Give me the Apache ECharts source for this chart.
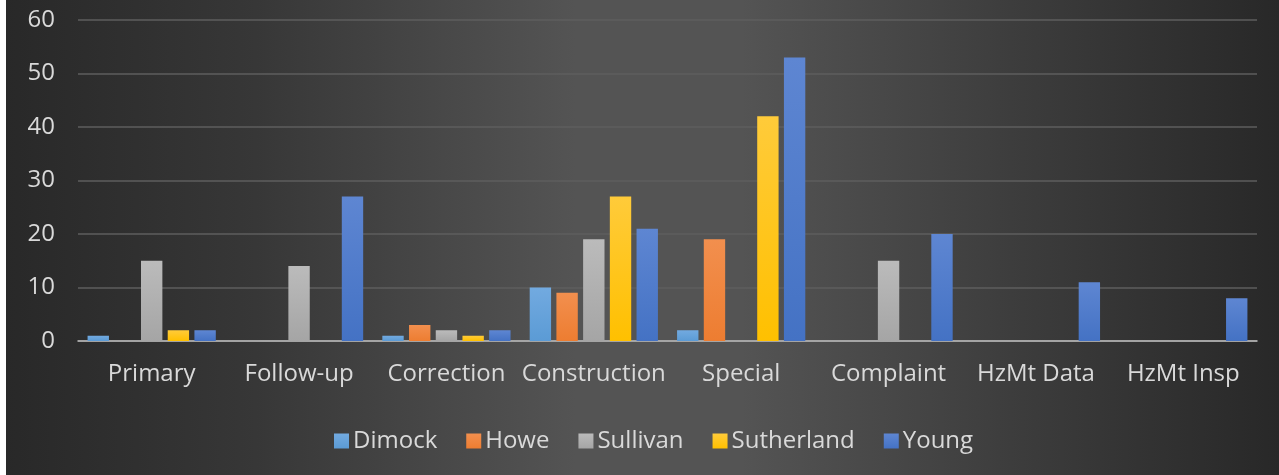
<!DOCTYPE html>
<html>
<head>
<meta charset="utf-8">
<script src="https://cdn.jsdelivr.net/npm/echarts@6/dist/echarts.min.js"></script>
<style>
html,body{margin:0;padding:0;background:#333;}
#chart{width:1279px;height:475px;}
</style>
</head>
<body>
<div id="chart"></div>
<script>
const categories = ["Primary","Follow-up","Correction","Construction","Special","Complaint","HzMt Data","HzMt Insp"];
const seriesNames = ["Dimock","Howe","Sullivan","Sutherland","Young"];
const dimock     = [1, 0, 1, 10, 2, 0, 0, 0];
const howe       = [0, 0, 3, 9, 19, 0, 0, 0];
const sullivan   = [15, 14, 2, 19, 0, 15, 0, 0];
const sutherland = [2, 0, 1, 27, 42, 0, 0, 0];
const young      = [2, 27, 2, 21, 53, 20, 11, 8];
const yTicks = [0,10,20,30,40,50,60];

const baseColors = ["#5B9BD5","#ED7D31","#A5A5A5","#FFC000","#4472C4"];
const topColors  = ["#72AAE0","#F28F4E","#BBBBBB","#FFCB3A","#5E86D2"];
const allData = [dimock, howe, sullivan, sutherland, young];

const chart = echarts.init(document.getElementById('chart'));
const font = "'Open Sans', sans-serif";
chart.setOption({
  backgroundColor: {
    type:'linear', x:0, y:0, x2:1, y2:0,
    colorStops:[
      {offset:0,color:'#282828'},
      {offset:0.2,color:'#373737'},
      {offset:0.45,color:'#545454'},
      {offset:0.58,color:'#545454'},
      {offset:0.8,color:'#3c3c3c'},
      {offset:1,color:'#282828'}
    ]
  },
  textStyle:{fontFamily:font},
  graphic:[{type:'rect',left:0,top:0,shape:{width:6,height:475},style:{fill:'#ffffff'},silent:true,z:100}],
  grid:{left:78,right:22,top:20,bottom:134,containLabel:false},
  legend:{
    top:424, left:329,
    itemWidth:15, itemHeight:15, itemGap:29,
    icon:'rect',
    textStyle:{color:'#d9d9d9',fontSize:24,fontFamily:font,padding:[0,0,0,-1]},
    data: seriesNames
  },
  xAxis:{
    type:'category', data:categories,
    axisLine:{lineStyle:{color:'#bfbfbf',width:1.5}},
    axisTick:{show:false},
    axisLabel:{color:'#d9d9d9',fontSize:24,margin:21,fontFamily:font,interval:0}
  },
  yAxis:{
    type:'value', min:0, max:60, interval:10,
    axisLine:{show:false}, axisTick:{show:false},
    axisLabel:{color:'#d9d9d9',fontSize:24,margin:23,fontFamily:font},
    splitLine:{lineStyle:{color:'#5e5e5e',width:1.5}}
  },
  series: seriesNames.map((n,i)=>({
    name:n, type:'bar', data: allData[i],
    barGap:'25%', barCategoryGap:'13%',
    itemStyle:{
      color:{type:'linear',x:0,y:0,x2:0,y2:1,colorStops:[{offset:0,color:topColors[i]},{offset:1,color:baseColors[i]}]}
    },
    emphasis:{disabled:true}
  })),
  color: baseColors
});
</script>
</body>
</html>
